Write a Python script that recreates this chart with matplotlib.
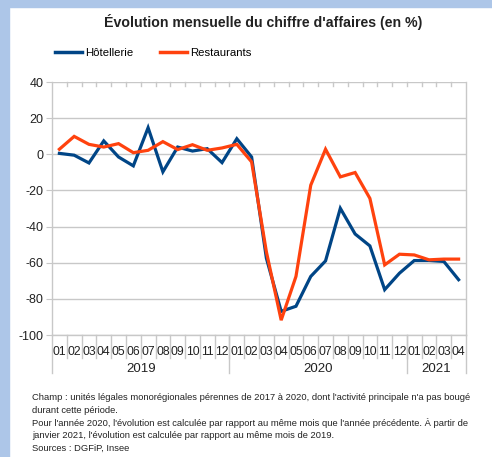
import matplotlib
matplotlib.use("Agg")
import matplotlib.pyplot as plt
import matplotlib.transforms as mtransforms
from matplotlib import font_manager as fm
from matplotlib.patches import Rectangle
from matplotlib.lines import Line2D

names = {f.name for f in fm.fontManager.ttflist}
FONT = 'Liberation Sans Narrow' if 'Liberation Sans Narrow' in names else 'Liberation Sans'
plt.rcParams['font.family'] = [FONT, 'DejaVu Sans']

# ---- data ----
months = ["01", "02", "03", "04", "05", "06", "07", "08", "09", "10", "11", "12",
          "01", "02", "03", "04", "05", "06", "07", "08", "09", "10", "11", "12",
          "01", "02", "03", "04"]
years = ["2019", "2020", "2021"]
year_counts = [12, 12, 4]
hotellerie = [0.5, -0.5, -4.8, 7.4, -1.5, -6.4, 14.7, -9.7, 4.0, 1.8, 3.1, -4.6,
              8.6, -1.5, -57.5, -86.9, -84.1, -67.6, -59.0, -29.9, -44.1, -50.7, -74.9, -65.8,
              -58.8, -58.8, -59.3, -69.4]
restaurants = [2.8, 9.9, 5.5, 4.0, 5.9, 0.9, 2.2, 7.0, 2.6, 5.3, 2.2, 3.5,
               5.5, -4.2, -54.0, -91.8, -67.6, -17.1, 2.8, -12.5, -10.1, -24.4, -61.2, -55.3,
               -55.7, -58.4, -58.0, -58.0]
yticks = [40, 20, 0, -20, -40, -60, -80, -100]
title = "Évolution mensuelle du chiffre d'affaires (en %)"
note = ("Champ : unités légales monorégionales pérennes de 2017 à 2020, dont l'activité principale n'a pas bougé\n"
        "durant cette période.\n"
        "Pour l'année 2020, l'évolution est calculée par rapport au même mois que l'année précédente. À partir de\n"
        "janvier 2021, l'évolution est calculée par rapport au même mois de 2019.\n"
        "Sources : DGFiP, Insee")

BLUE = "#004586"
RED = "#ff420e"
GRID = "#c8c8c8"
W, H = 492, 457

fig = plt.figure(figsize=(W / 100, H / 100), dpi=100)
fig.patches.append(Rectangle((0, 1 - 6.5 / H), 1, 6.5 / H, transform=fig.transFigure,
                             color="#adc6e8", zorder=0))
fig.patches.append(Rectangle((0, 0), 8.5 / W, 1, transform=fig.transFigure,
                             color="#adc6e8", zorder=0))

ax = fig.add_axes([52 / W, 1 - 335 / H, (466 - 52) / W, (335 - 82) / H])
x = list(range(len(months)))
ax.plot(x, hotellerie, color=BLUE, lw=2.3, solid_joinstyle='miter', zorder=3)
ax.plot(x, restaurants, color=RED, lw=2.3, solid_joinstyle='miter', zorder=3)

ax.set_xlim(-0.5, len(months) - 0.5)
ax.set_ylim(-100, 40)
ax.set_yticks(yticks)
ax.set_yticklabels([str(v) for v in yticks], fontsize=9, color="#222222")
ax.tick_params(axis='y', length=4, color=GRID, pad=2)
ax.grid(axis='y', color=GRID, lw=1)
ax.set_axisbelow(True)
for s in ax.spines.values():
    s.set_color(GRID)
    s.set_linewidth(1)
ax.spines['top'].set_visible(False)

# month labels and separators
ax.set_xticks(x)
ax.set_xticklabels([])
ax.tick_params(axis='x', length=0)
trans = mtransforms.blended_transform_factory(ax.transData, ax.transAxes)
hpx = 335 - 82
for i, m in enumerate(months):
    ax.text(i, -17 / hpx, m, transform=trans, ha='center', va='center', fontsize=8.8, color="#222222")
for b in range(1, len(months)):
    ax.plot([b - 0.5, b - 0.5], [0, -23 / hpx], transform=trans, color=GRID, lw=1, clip_on=False)
    ax.plot([b - 0.5, b - 0.5], [1, 1 - 4 / hpx], transform=trans, color=GRID, lw=1, clip_on=False)
start = 0
bounds = [-0.5]
for y, c in zip(years, year_counts):
    ax.text(start + c / 2 - 0.5, -34 / hpx, y, transform=trans, ha='center', va='center',
            fontsize=9.5, color="#222222")
    start += c
    bounds.append(start - 0.5)
for b in bounds:
    ax.plot([b, b], [0, -38 / hpx], transform=trans, color=GRID, lw=1, clip_on=False)

fig.text(263 / W, 1 - 22 / H, title, ha='center', va='center', fontsize=10.2, fontweight='bold',
         color="#222222")

handles = [Line2D([], [], color=BLUE, lw=2.5), Line2D([], [], color=RED, lw=2.5)]
fig.legend(handles, ["Hôtellerie", "Restaurants"], ncol=2, loc='center left',
           bbox_to_anchor=(55 / W, 1 - 53 / H), frameon=False, fontsize=8.2,
           handlelength=2.4, handletextpad=0.25, columnspacing=2.3,
           borderpad=0, borderaxespad=0)

fig.text(32 / W, 1 - 393.5 / H, note, ha='left', va='top', fontsize=6.75, color="#222222",
         linespacing=1.45)

fig.savefig("out.png", dpi=100)
